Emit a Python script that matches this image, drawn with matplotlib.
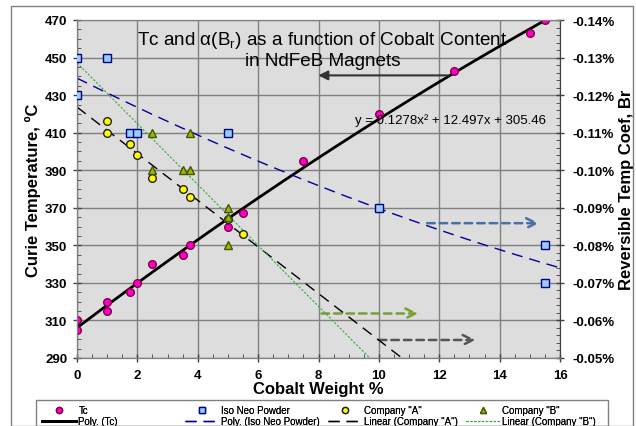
import numpy as np
import matplotlib
matplotlib.use("Agg")
import matplotlib.pyplot as plt
from matplotlib.patches import Rectangle
from matplotlib.ticker import MultipleLocator, FixedLocator, FuncFormatter

plt.rcParams['font.family'] = ['Liberation Sans', 'DejaVu Sans']

# Curie temperature (left axis, degC)
tc_x = [0, 0, 1, 1, 1.75, 2, 2.5, 3.5, 3.75, 5, 5.5, 7.5, 10, 12.5, 15, 15.5]
tc_y = [310, 305, 320, 315, 325, 330, 340, 345, 350, 360, 367, 395, 420, 443, 463, 470]

# reversible temp coef of Br (right axis, %)
iso_x = [0, 0, 1, 1.75, 2, 5, 10, 15.5, 15.5]
iso_y = [-0.130, -0.120, -0.130, -0.110, -0.110, -0.110, -0.090, -0.080, -0.070]

coa_x = [1, 1, 1.75, 2, 2.5, 3.5, 3.75, 5, 5.5]
coa_y = [-0.113, -0.110, -0.107, -0.104, -0.098, -0.095, -0.093, -0.087, -0.083]

cob_x = [2.5, 2.5, 3.5, 3.75, 3.75, 5, 5, 5]
cob_y = [-0.110, -0.100, -0.100, -0.100, -0.110, -0.090, -0.0875, -0.080]

fig = plt.figure(figsize=(6.36, 4.27), dpi=100)
ax = fig.add_axes([77/636, 1-359/427, 483/636, 338/427])
ax2 = ax.twinx()
ax.set_zorder(ax2.get_zorder() - 1)
ax.set_facecolor('#DDDDDD')
ax2.patch.set_visible(False)

# frame round the whole chart
fig.patches.append(Rectangle((11/636, 0), 622/636, 1-7/427, transform=fig.transFigure,
                             fill=False, edgecolor='#808080', lw=1))

ax.set_xlim(0, 16)
ax.set_ylim(290, 470)
ax2.set_ylim(-0.05, -0.14)

ax.xaxis.set_major_locator(MultipleLocator(2))
ax.xaxis.set_minor_locator(MultipleLocator(0.5))
ax.yaxis.set_major_locator(FixedLocator(np.arange(290, 471, 20)))
ax.yaxis.set_minor_locator(MultipleLocator(5))
ax2.yaxis.set_major_locator(MultipleLocator(0.01))
ax2.yaxis.set_minor_locator(MultipleLocator(0.002))
ax2.yaxis.set_major_formatter(FuncFormatter(lambda v, p: '%.2f%%' % v))

ax.grid(True, which='major', color='#808080', lw=1)
ax.set_axisbelow(True)

for a in (ax, ax2):
    for s in a.spines.values():
        s.set_color('#808080')
    a.tick_params(which='major', direction='inout', length=6, width=1, color='#404040',
                  labelsize=9.5)
    a.tick_params(which='minor', direction='in', length=3, color='#404040')
    for lab in a.get_xticklabels() + a.get_yticklabels():
        lab.set_fontweight('bold')
ax.spines['left'].set_color('#404040')
ax.spines['bottom'].set_color('#404040')
ax2.spines['right'].set_color('#404040')
ax.tick_params(axis='y', pad=4)
ax.tick_params(axis='x', pad=5)
ax2.tick_params(axis='y', pad=6)

xs = np.linspace(0, 16, 200)

# trendlines
tc_fit = np.polyfit(tc_x, tc_y, 2)
xt = np.linspace(0, 15.5, 200)
l_tc, = ax.plot(xt, np.polyval(tc_fit, xt), color='black', lw=2, label='Poly. (Tc)', zorder=3)

iso_fit = np.polyfit(iso_x, iso_y, 2)
l_iso, = ax2.plot(xs, np.polyval(iso_fit, xs), color='#000099', lw=1, dashes=(8, 5),
                  label='Poly. (Iso Neo Powder)', zorder=2)
coa_fit = np.polyfit(coa_x, coa_y, 1)
l_coa, = ax2.plot(xs, np.polyval(coa_fit, xs), color='black', lw=1, dashes=(8, 5),
                  label='Linear (Company "A")', zorder=2)
cob_fit = np.polyfit(cob_x, cob_y, 1)
l_cob, = ax2.plot(xs, np.polyval(cob_fit, xs), color='#33AA33', lw=0.8, dashes=(2, 1.5),
                  label='Linear (Company "B")', zorder=2)

# points
p_tc, = ax.plot(tc_x, tc_y, 'o', ms=5.5, mfc='#FF00CC', mec='#800040', mew=1, label='Tc', zorder=4)
p_iso, = ax2.plot(iso_x, iso_y, 's', ms=5.5, mfc='#99CCFF', mec='#000080', mew=1,
                  label='Iso Neo Powder', zorder=4)
p_coa, = ax2.plot(coa_x, coa_y, 'o', ms=5.5, mfc='#FFFF00', mec='#202020', mew=1,
                  label='Company "A"', zorder=4)
p_cob, = ax2.plot(cob_x, cob_y, '^', ms=5.5, mfc='#99BB00', mec='#445500', mew=1,
                  label='Company "B"', zorder=5)

# arrows pointing to the axis each series belongs to
ax.annotate('', xy=(7.9, 440.5), xytext=(12.4, 440.5),
            arrowprops=dict(arrowstyle='-|>', color='#333333', lw=1.5, mutation_scale=14))
arrow_specs = [((11.6, 361.8), (15.3, 361.8), '#4A6FA5'),
               ((8.1, 313.7), (11.3, 313.7), '#77A033'),
               ((10.0, 299.6), (13.2, 299.6), '#555555')]
for (x0, y0), (x1, y1), c in arrow_specs:
    ax.annotate('', xy=(x1, y1), xytext=(x0, y0),
                arrowprops=dict(arrowstyle='->', color=c, lw=1.8, linestyle=(0, (3, 2)),
                                mutation_scale=18, shrinkA=0, shrinkB=0))

ax.text(0.508, 0.914, 'Tc and α(B$_\\mathregular{r}$) as a function of Cobalt Content\nin NdFeB Magnets',
        transform=ax.transAxes, ha='center', va='center', fontsize=13.6, linespacing=1.15,
        zorder=6)
ax.text(9.2, 417, 'y = 0.1278x² + 12.497x + 305.46', fontsize=9.5, va='center', ha='left', zorder=6)

ax.set_xlabel('Cobalt Weight %', fontsize=12, fontweight='bold', labelpad=0)
ax.set_ylabel('Curie Temperature, ºC', fontsize=12, fontweight='bold', labelpad=3)
ax2.set_ylabel('Reversible Temp Coef, Br', fontsize=12, fontweight='bold', labelpad=3)

# legend: 4 equal columns inside one frame, as in the spreadsheet chart
fig.patches.append(Rectangle((36/636, 0), 572/636, 1-401/427, transform=fig.transFigure,
                             fill=False, edgecolor='#808080', lw=1))
columns = [(p_tc, l_tc), (p_iso, l_iso), (p_coa, l_coa), (p_cob, l_cob)]
col_x = [42, 185, 328, 466]
for (hm, hl), cx in zip(columns, col_x):
    lg = fig.legend(handles=[hm, hl], loc='upper left',
                    bbox_to_anchor=(cx/636, 1-406/427), borderaxespad=0, borderpad=0,
                    fontsize=7, frameon=False, handlelength=3.5, handletextpad=0.25,
                    labelspacing=0.15, markerscale=0.8)
    fig.add_artist(lg)

fig.savefig('out.png', dpi=100)
